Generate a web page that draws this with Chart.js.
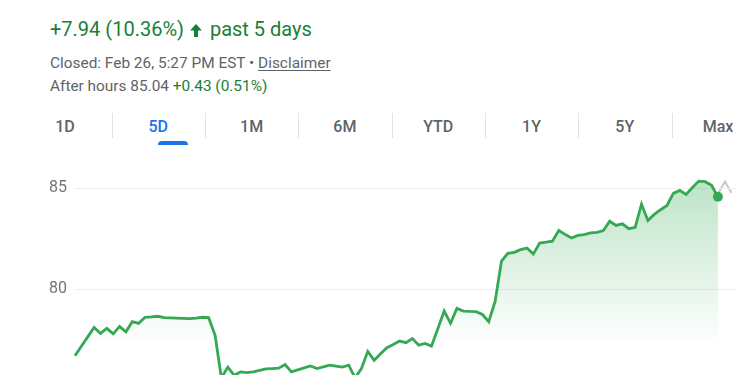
<!DOCTYPE html>
<html>
<head>
<meta charset="utf-8">
<script src="https://cdn.jsdelivr.net/npm/chart.js@4.4.1/dist/chart.umd.min.js"></script>
<style>
    body {
        margin: 0;
        width: 750px;
        height: 375px;
        overflow: hidden;
        background: #fff;
        font-family: Roboto, "Noto Sans", Arial, sans-serif;
        position: relative;
    }
    .linha {
        position: absolute;
        left: 50px;
        white-space: nowrap;
    }
    .verde { color: #188038; }
    .cinza { color: #5f6368; }
    #titulo { top: 19px; font-size: 20px; line-height: 20px; }
    #fechado { top: 56px; font-size: 15.4px; line-height: 15px; }
    #depois { top: 79px; font-size: 15.4px; line-height: 15px; }
    #fechado u { text-underline-offset: 2px; }
    .aba {
        position: absolute;
        top: 119px;
        width: 93px;
        text-align: center;
        font-size: 16px;
        line-height: 16px;
        font-weight: 500;
        color: #5f6368;
    }
    .separador {
        position: absolute;
        top: 113px;
        width: 1px;
        height: 25px;
        background: #e3e3e3;
    }
    #indicador {
        position: absolute;
        left: 158px;
        top: 141px;
        width: 30px;
        height: 4px;
        border-radius: 4px 4px 0 0;
        background: #1a73e8;
    }
    #grafico {
        position: absolute;
        left: 0;
        top: 166px;
        width: 750px;
        height: 216px;
    }
    #seta { position: absolute; left: 717px; top: 179px; }
</style>
</head>
<body>

<div id="titulo" class="linha verde">+7.94 (10.36%) <svg width="12" height="13" viewBox="0 0 12 13" style="vertical-align:-1px;margin:0 3px 0 1px"><path d="M6 0 L12 6.5 L8 6.5 L8 13 L4 13 L4 6.5 L0 6.5 Z" fill="#188038"/></svg> past 5 days</div>
<div id="fechado" class="linha cinza">Closed: Feb 26, 5:27 PM EST • <u>Disclaimer</u></div>
<div id="depois" class="linha cinza">After hours 85.04 <span class="verde">+0.43 (0.51%)</span></div>

<div id="abas"></div>
<div id="indicador"></div>

<svg id="seta" width="16" height="16" viewBox="0 0 16 16"><polyline points="1.5,14 8,2.5 14.5,14" fill="none" stroke="#c8c8c8" stroke-width="2"/></svg>

<div id="grafico"><canvas id="graficoPreco"></canvas></div>

<script>
const abas = ["1D", "5D", "1M", "6M", "YTD", "1Y", "5Y", "Max"];
const abaAtiva = "5D";

// preco a cada ponto do grafico de 5 dias
const precos = [
    76.70, 77.17, 77.64, 78.11, 77.81, 78.06, 77.79, 78.16, 77.89, 78.39,
    78.31, 78.61, 78.63, 78.66, 78.59, 78.58, 78.57, 78.56, 78.54, 78.57,
    78.61, 78.59, 77.73, 75.60, 76.14, 75.74, 75.90, 75.87, 75.90, 75.98,
    76.05, 76.07, 76.09, 76.27, 75.90, 76.00, 76.10, 76.20, 76.07, 76.15,
    76.24, 76.19, 76.14, 76.24, 75.60, 76.07, 76.92, 76.48, 76.80, 77.10,
    77.26, 77.43, 77.35, 77.56, 77.23, 77.31, 77.18, 78.04, 78.92, 78.31,
    79.05, 78.92, 78.90, 78.89, 78.75, 78.39, 79.39, 81.40, 81.78, 81.83,
    81.96, 82.04, 81.74, 82.29, 82.33, 82.38, 82.91, 82.72, 82.54, 82.67,
    82.71, 82.79, 82.82, 82.91, 83.37, 83.16, 83.24, 83.00, 83.07, 84.22,
    83.41, 83.71, 83.94, 84.15, 84.75, 84.90, 84.70, 85.04, 85.36, 85.33,
    85.15, 84.58
];

// o eixo x cobre um pouco mais que os pontos (resto do dia)
const totalPontos = 105;
const rotulos = Array.from({ length: totalPontos }, (_, i) => String(i));

const ticksY = [80, 85];
const minY = 75.65;
const maxY = 85.86;

// abas de periodo
const containerAbas = document.getElementById("abas");
abas.forEach((nome, i) => {
    const aba = document.createElement("div");
    aba.className = "aba";
    aba.textContent = nome;
    aba.style.left = (18.5 + i * 93.3) + "px";
    if (nome === abaAtiva) aba.style.color = "#1a73e8";
    containerAbas.appendChild(aba);
    if (i > 0) {
        const sep = document.createElement("div");
        sep.className = "separador";
        sep.style.left = Math.round(18.5 + i * 93.3) + "px";
        containerAbas.appendChild(sep);
    }
});

const verde = "#34a853";
const ultimo = precos.length - 1;

const ctx = document.getElementById("graficoPreco").getContext("2d");
const grafico = new Chart(ctx, {
    type: "line",
    data: {
        labels: rotulos,
        datasets: [{
            data: precos,
            borderColor: verde,
            borderWidth: 2.8,
            tension: 0,
            fill: "start",
            backgroundColor: function (c) {
                const area = c.chart.chartArea;
                if (!area) return "rgba(52,168,83,0.2)";
                const g = c.chart.ctx.createLinearGradient(0, area.top, 0, area.top + 175);
                g.addColorStop(0, "rgba(52,168,83,0.34)");
                g.addColorStop(1, "rgba(52,168,83,0)");
                return g;
            },
            pointRadius: function (c) {
                return c.dataIndex === ultimo ? 5 : 0;
            },
            pointBackgroundColor: verde,
            pointBorderWidth: 0,
            pointHoverRadius: 0
        }]
    },
    options: {
        responsive: true,
        maintainAspectRatio: false,
        animation: false,
        events: [],
        layout: { padding: { left: 0, right: 13, top: 0, bottom: 0 } },
        plugins: {
            legend: { display: false },
            tooltip: { enabled: false }
        },
        scales: {
            x: {
                display: false
            },
            y: {
                min: minY,
                max: maxY,
                afterBuildTicks: function (escala) {
                    escala.ticks = ticksY.map(v => ({ value: v }));
                },
                afterFit: function (escala) {
                    escala.width = 75;
                    escala.paddingTop = 0;
                    escala.paddingBottom = 0;
                },
                border: { display: false },
                grid: {
                    color: "#efefef",
                    lineWidth: 1,
                    drawTicks: false
                },
                ticks: {
                    padding: 8,
                    color: "#70757a",
                    font: { family: "Roboto", size: 16 }
                }
            }
        }
    }
});
</script>
</body>
</html>
